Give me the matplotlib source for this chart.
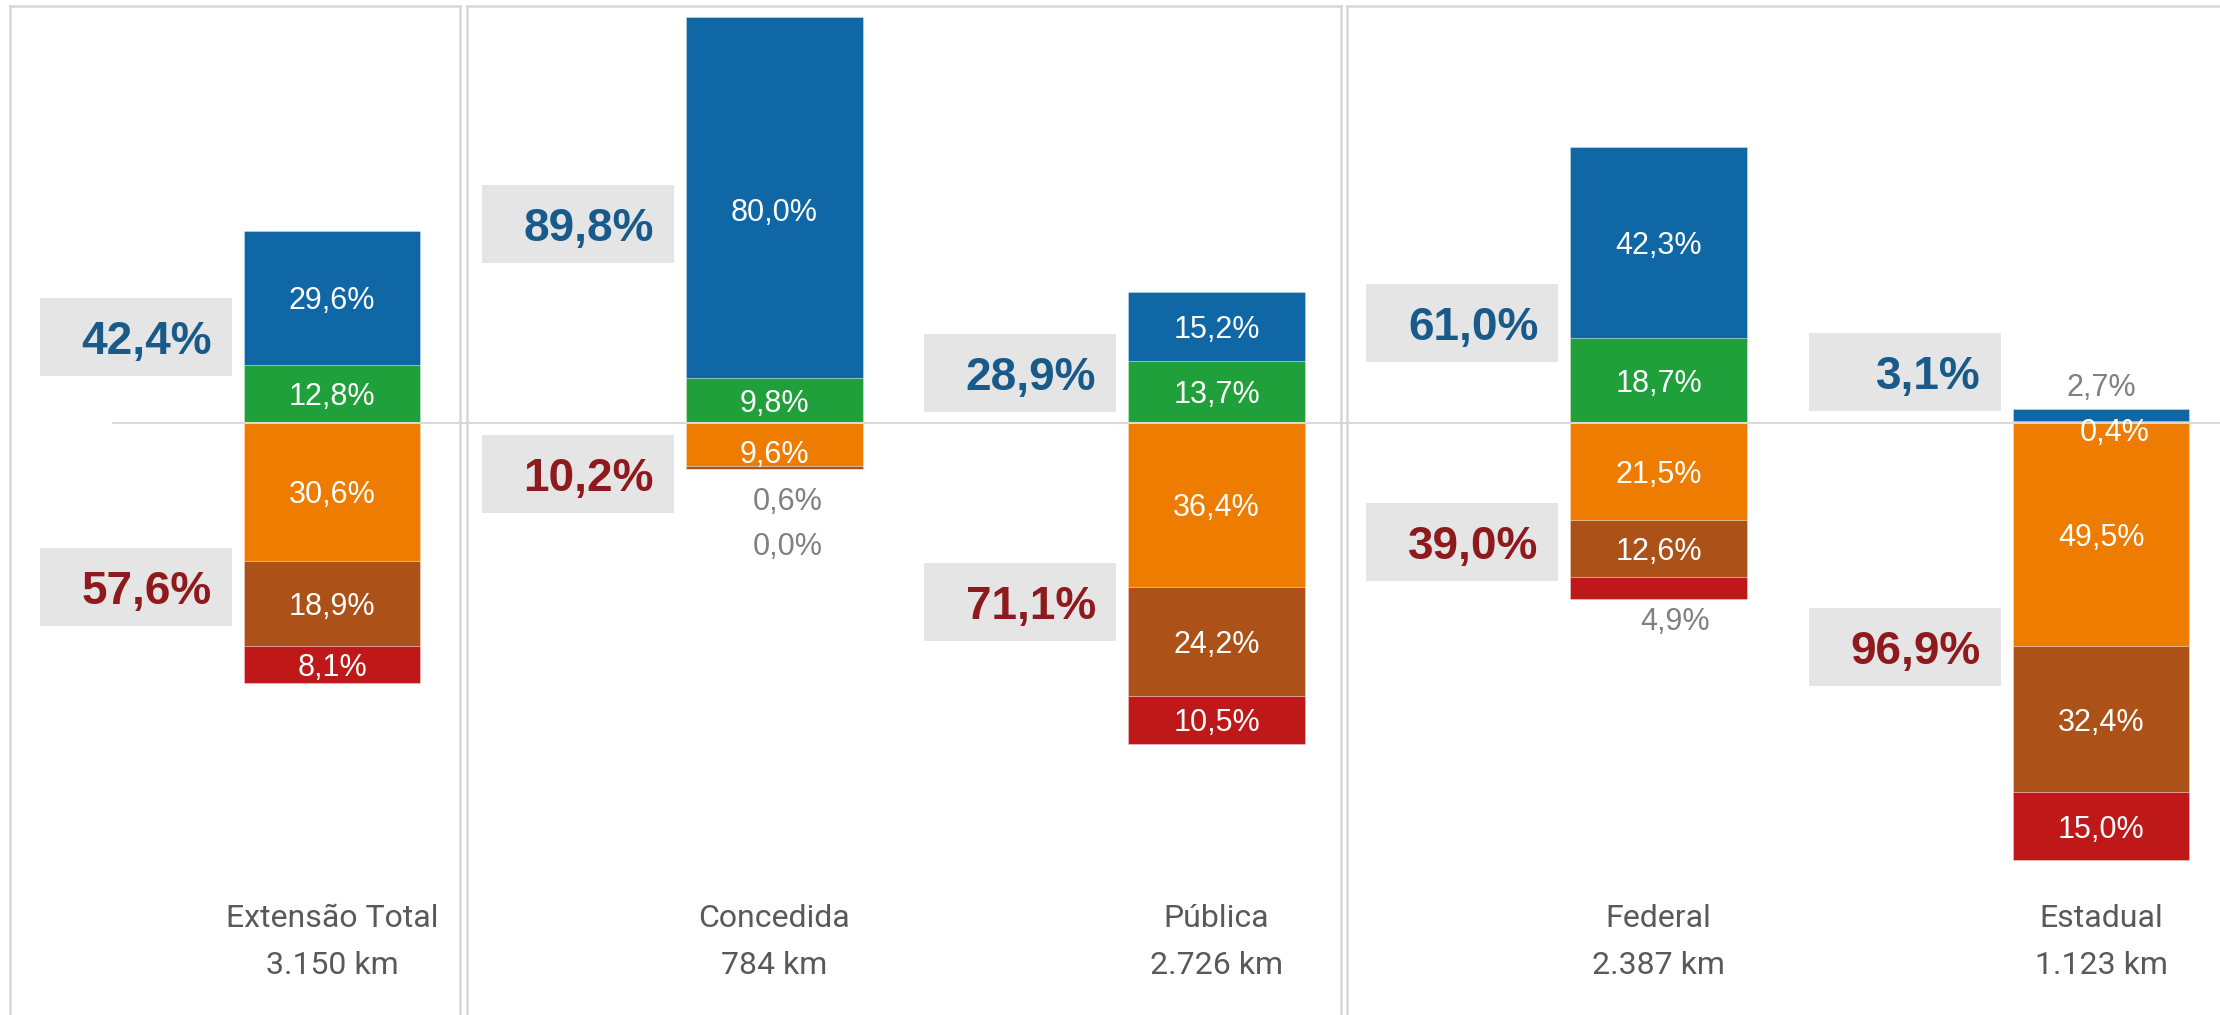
import matplotlib.pyplot as plt
from matplotlib.patches import Rectangle
from matplotlib.lines import Line2D

plt.rcParams['font.family'] = ['Liberation Sans', 'DejaVu Sans']

# Data
categories = ['Extensão Total', 'Concedida', 'Pública', 'Federal', 'Estadual']
extensao_km = [3150, 784, 2726, 2387, 1123]

# positive side, stacked up from zero
verde = [12.8, 9.8, 13.7, 18.7, 0.4]
azul = [29.6, 80.0, 15.2, 42.3, 2.7]
# negative side, stacked down from zero
laranja = [30.6, 9.6, 36.4, 21.5, 49.5]
marrom = [18.9, 0.6, 24.2, 12.6, 32.4]
vermelho = [8.1, 0.0, 10.5, 4.9, 15.0]

# Styles / layout
cores = {'azul': '#0F67A5', 'verde': '#1FA03A', 'laranja': '#EE7C00',
         'marrom': '#AC5118', 'vermelho': '#BE1818'}
cor_total_pos = '#185A8A'
cor_total_neg = '#8F1A1E'
cor_caixa = '#E5E5E5'
cor_cinza = '#808080'
cor_linha = '#D9D9D9'
bar_w = 0.4

# vertical centre of the grey total boxes (in % units)
caixa_pos_y = [18.9, 44.0, 10.9, 22.0, 11.2]
caixa_neg_y = [-36.4, -11.4, -39.8, -26.5, -49.7]

# labels placed by hand: (serie, categoria) -> (dx, y, cor)
label_fora = {
    ('azul', 1): (0.0, 47.1, 'white'),
    ('laranja', 1): (0.0, -6.5, 'white'),
    ('marrom', 1): (0.03, -16.7, cor_cinza),
    ('vermelho', 1): (0.03, -26.7, cor_cinza),
    ('vermelho', 3): (0.036, -43.4, cor_cinza),
    ('azul', 4): (0.0, 8.5, cor_cinza),
    ('verde', 4): (0.03, -1.6, 'white'),
}


def fmt(v):
    return f'{v:.1f}'.replace('.', ',') + '%'


fig = plt.figure(figsize=(22.2, 10.15), dpi=100)
ax = fig.add_axes([0, 0, 1, 1])
ax.set_xlim(-0.7507, 4.269)
ax.set_ylim(-131.2, 93.6)
ax.axis('off')

x = list(range(len(categories)))

# panel borders (figure pixels)
W, H = 2220, 1015
paineis = [(10, 460), (466.5, 1341), (1347, 2240)]
for x0, x1 in paineis:
    for xs, ys in [([x0, x0], [6, H]), ([x1, x1], [6, H]), ([x0, x1], [6, 6])]:
        fig.add_artist(Line2D([v / W for v in xs], [1 - v / H for v in ys],
                              color='#D6D6D6', lw=1.8, transform=fig.transFigure))

# stacked bars
series = [('verde', verde, 1), ('azul', azul, 1),
          ('laranja', laranja, -1), ('marrom', marrom, -1), ('vermelho', vermelho, -1)]
base_pos = [0.0] * len(x)
base_neg = [0.0] * len(x)
for nome, vals, sinal in series:
    base = base_pos if sinal > 0 else base_neg
    alturas = [sinal * v for v in vals]
    ax.bar(x, alturas, bottom=base, width=bar_w, color=cores[nome],
           edgecolor=(1, 1, 1, 0.35), linewidth=0.6, zorder=2)
    for i, v in enumerate(vals):
        centro = base[i] + alturas[i] / 2
        if (nome, i) in label_fora:
            dx, yy, c = label_fora[(nome, i)]
            ax.text(i + dx, yy, fmt(v), color=c, fontsize=22,
                    ha='center', va='center_baseline', zorder=4)
        else:
            ax.text(i, centro, fmt(v), color='white', fontsize=22,
                    ha='center', va='center_baseline', zorder=4)
    for i in range(len(x)):
        base[i] += alturas[i]

# zero line
ax.axhline(0, xmin=113 / W, xmax=1, color=cor_linha, lw=1.5, zorder=3)

# totals in grey boxes
caixa_w = 0.434
caixa_h = 17.3
for i in x:
    tot_pos = round(verde[i] + azul[i], 1)
    tot_neg = round(laranja[i] + marrom[i] + vermelho[i], 1)
    for yc, tot, cor in [(caixa_pos_y[i], tot_pos, cor_total_pos),
                         (caixa_neg_y[i], tot_neg, cor_total_neg)]:
        ax.add_patch(Rectangle((i - 0.661, yc - caixa_h / 2), caixa_w, caixa_h,
                               facecolor=cor_caixa, edgecolor='none', zorder=1))
        ax.text(i - 0.272, yc, fmt(tot), color=cor, fontsize=33, fontweight='bold',
                ha='right', va='center_baseline', zorder=4)

# category labels
for i, (cat, km) in enumerate(zip(categories, extensao_km)):
    ax.text(i, -109.1, cat, fontsize=23, color='#595959', family=['Roboto', 'DejaVu Sans'],
            ha='center', va='center_baseline')
    ax.text(i, -119.6, f'{km:,} km'.replace(',', '.'), fontsize=23, color='#595959',
            family=['Roboto', 'DejaVu Sans'], ha='center', va='center_baseline')

fig.savefig('out.png', dpi=100)
